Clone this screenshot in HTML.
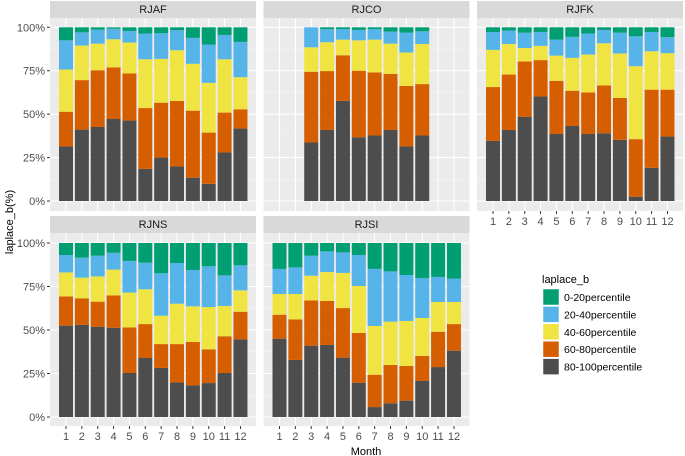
<!DOCTYPE html>
<html><head><meta charset="utf-8"><style>
body{margin:0;background:#fff;}
svg{display:block;font-family:"Liberation Sans",Arial,sans-serif;}
</style></head><body>
<svg id="chart" width="685" height="456" viewBox="0 0 685 456"></svg>
<script>
const months=[1,2,3,4,5,6,7,8,9,10,11,12];
const stations=["RJAF","RJCO","RJFK","RJNS","RJSI"];
const seriesNames=["80-100percentile","60-80percentile","40-60percentile","20-40percentile","0-20percentile"];
const legendOrder=["0-20percentile","20-40percentile","40-60percentile","60-80percentile","80-100percentile"];
const yTicks=[0,25,50,75,100];
const yTickLabels=["0%","25%","50%","75%","100%"];
// values per station, series bottom-up: 80-100, 60-80, 40-60, 20-40 (0-20 = remainder)
const rjafDark=[31.4,41.1,42.6,47.2,46.3,18.5,25,19.9,13.4,9.9,27.9,41.7];
const rjafOrange=[20,28.5,32.7,29.7,27.1,35,31.6,37.7,38.6,29.5,23,11.1];
const rjafYellow=[24.3,19.9,15.3,16.2,17.8,28.1,25.2,29.2,27,28.6,30.7,18.5];
const rjafBlue=[16.8,7.6,8,6.1,6.7,14.8,14.8,11.5,14.9,22.1,14,20.3];
const rjcoDark=[null,null,33.7,40.9,57.6,36.7,37.7,40.9,31.4,37.7,null,null];
const rjcoOrange=[null,null,40.7,33.9,26.3,38.3,36.3,32.3,34.8,29.6,null,null];
const rjcoYellow=[null,null,14.1,16.6,9,17.5,18.9,17.4,19.3,23.1,null,null];
const rjcoBlue=[null,null,11.5,7.5,6.1,6,6.1,6.9,11.4,7.3,null,null];
const rjfkDark=[34.6,40.9,48.4,60.2,38.6,43.2,38.6,39,35.2,2.5,19.1,37.1];
const rjfkOrange=[31,31.9,31.9,20.9,30.6,20.3,23.9,27.5,24.1,33.1,45,27];
const rjfkYellow=[21.4,17.6,7.8,8.2,14.5,18.9,21.8,24.3,25.6,42,22.1,21];
const rjfkBlue=[10.3,7.7,8.8,8,9.2,12.1,12.1,7.7,12,17.2,11.1,9.2];
const rjnsDark=[52.5,52.9,51.9,51.3,25.3,33.9,28.2,19.9,18.2,19.5,25.3,44.6];
const rjnsOrange=[16.8,15.3,14.4,18.6,26.2,19.5,13.7,22,24.9,19.4,21.1,15.9];
const rjnsYellow=[13.8,11.9,14.5,14.8,20,20,16.3,23.2,20.5,24.3,17.4,12.3];
const rjnsBlue=[10,11.5,11.9,9.7,18.2,15.3,24.4,23.4,20.9,23.4,17.6,14.4];
const rjsiDark=[45,32.8,41,41.4,34.1,19.7,5.7,7.9,9.4,20.7,28.7,38.1];
const rjsiOrange=[13.8,23.3,26,25.3,28.5,28.6,18.6,22,19.9,14.4,20.3,15.3];
const rjsiYellow=[11.9,14.6,14.2,16.6,20.2,27,28,24.9,25.9,21.8,17.1,12.7];
const rjsiBlue=[14.4,15.3,11.5,11.9,11.8,17.8,32.8,28.9,26.4,23,14.4,13.4];

const stationData={
 RJAF:[rjafDark,rjafOrange,rjafYellow,rjafBlue],
 RJCO:[rjcoDark,rjcoOrange,rjcoYellow,rjcoBlue],
 RJFK:[rjfkDark,rjfkOrange,rjfkYellow,rjfkBlue],
 RJNS:[rjnsDark,rjnsOrange,rjnsYellow,rjnsBlue],
 RJSI:[rjsiDark,rjsiOrange,rjsiYellow,rjsiBlue]
};
const colors={"80-100percentile":"#4D4D4D","60-80percentile":"#D55E00","40-60percentile":"#F0E442","20-40percentile":"#56B4E9","0-20percentile":"#009E73"};
const NS="http://www.w3.org/2000/svg";
const svg=document.getElementById("chart");
function mk(tag,attrs,parent){const e=document.createElementNS(NS,tag);for(const k in attrs)e.setAttribute(k,attrs[k]);(parent||svg).appendChild(e);return e;}

const panelW=206, colLeft=[50,263.5,477];
const rows=[{stripTop:1,top:18,bottom:211,y0:201,y100:27.3},{stripTop:216,top:233,bottom:426,y0:417,y100:243}];
const layout={RJAF:[0,0],RJCO:[0,1],RJFK:[0,2],RJNS:[1,0],RJSI:[1,1]};
const step=15.86, barW=14;

stations.forEach(st=>{
  const [r,c]=layout[st];const R=rows[r];const L=colLeft[c];
  const xS=i=>L+16+i*step;
  const yS=v=>R.y0-(v/100)*(R.y0-R.y100);
  const g=mk("g",{});
  
  
  const strip=mk("rect",{x:L,y:R.stripTop,width:panelW,height:R.top-R.stripTop,fill:"#D9D9D9"},g);
  
  
  const st_t=mk("text",{x:L+panelW/2,y:R.stripTop+12,"text-anchor":"middle","font-size":"11",fill:"#1A1A1A"},g);
  st_t.textContent=st;
  
  
  const bg=mk("rect",{x:L,y:R.top,width:panelW,height:R.bottom-R.top,fill:"#EBEBEB"},g);
  
  
  for(let v=12.5;v<100;v+=25){mk("line",{x1:L,x2:L+panelW,y1:yS(v),y2:yS(v),stroke:"#F5F5F5","stroke-width":0.6},g);}
  yTicks.forEach(v=>mk("line",{x1:L,x2:L+panelW,y1:yS(v),y2:yS(v),stroke:"#fff","stroke-width":1.1},g));
  months.forEach((m,i)=>mk("line",{x1:xS(i),x2:xS(i),y1:R.top,y2:R.bottom,stroke:"#fff","stroke-width":1.1},g));
  const d=stationData[st];
  months.forEach((m,i)=>{
    if(d[0][i]==null)return;
    let cum=0;
    const vals=[d[0][i],d[1][i],d[2][i],d[3][i]];
    const s=vals.reduce((a,b)=>a+b,0);
    vals.push(Math.max(0,100-s));
    vals.forEach((v,k)=>{
      const rect=mk("rect",{x:xS(i)-barW/2,y:yS(cum+v),width:barW,height:Math.max(0,yS(cum)-yS(cum+v)),fill:colors[seriesNames[k]]},g);
      
      
      cum+=v;
    });
  });
  if(c===0){
    yTicks.forEach((v,k)=>{
      mk("line",{x1:L-3,x2:L,y1:yS(v),y2:yS(v),stroke:"#333","stroke-width":1},g);
      const t=mk("text",{x:L-5,y:yS(v)+4,"text-anchor":"end","font-size":"11",fill:"#4D4D4D"},g);
      t.textContent=yTickLabels[k];
      
      
    });
  }
  if(r===1||st==="RJFK"){
    months.forEach((m,i)=>{
      mk("line",{x1:xS(i),x2:xS(i),y1:R.bottom,y2:R.bottom+3,stroke:"#333","stroke-width":1},g);
      const t=mk("text",{x:xS(i),y:R.bottom+14,"text-anchor":"middle","font-size":"11",fill:"#4D4D4D"},g);
      t.textContent=m;
      
      
    });
  }
});
const yt=mk("text",{x:13,y:222,"text-anchor":"middle","font-size":"11",fill:"#000",transform:"rotate(-90 13 222)"});
yt.textContent="laplace_b(%)";


const xt=mk("text",{x:366,y:455,"text-anchor":"middle","font-size":"11",fill:"#000"});
xt.textContent="Month";


const lg=mk("g",{});


const lt=mk("text",{x:542,y:283,"font-size":"11",fill:"#000"},lg);
lt.textContent="laplace_b";


legendOrder.forEach((n,k)=>{
  const y=289+k*17.4;
  const kr=mk("rect",{x:543,y:y,width:16,height:16,fill:colors[n],stroke:"#fff","stroke-width":0.5},lg);
  
  
  const t=mk("text",{x:564,y:y+12,"font-size":"10.5",fill:"#000"},lg);
  t.textContent=n;
  
  
});
</script>
</body></html>
